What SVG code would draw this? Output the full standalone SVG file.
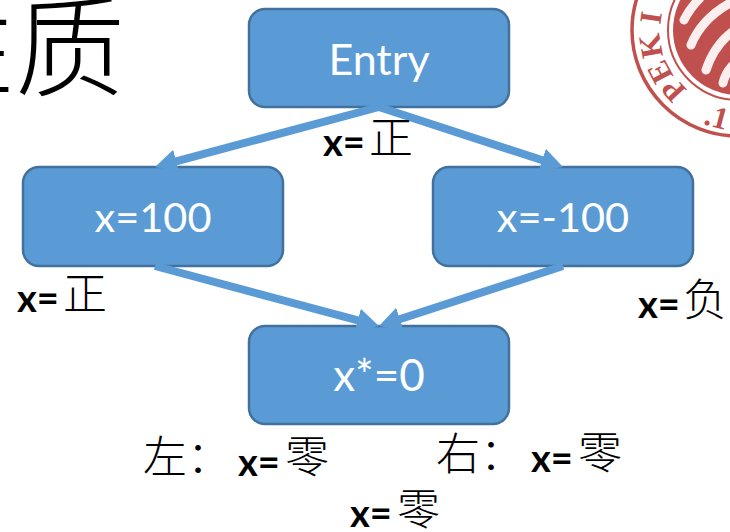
<svg xmlns="http://www.w3.org/2000/svg" width="730" height="532" viewBox="0 0 730 532">
<style>
.n{fill:#5b9bd5;stroke:#41719c;stroke-width:2.5}
.t{font-family:Lato,"Liberation Sans",sans-serif;font-size:41.5px;fill:#fff;text-anchor:middle}
.l{font-family:Lato,"Liberation Sans",sans-serif;font-size:38px;font-weight:700;fill:#000}
.c{font-family:"Noto Sans CJK SC",serif;font-size:44px;font-weight:300;fill:#000}
.e{fill:none;stroke:#5b9bd5;stroke-width:8}
.s{fill:none;stroke:#c0504d}
.w{fill:none;stroke:#fbeeee;stroke-width:9;stroke-linecap:round}
.sl{font-family:"Liberation Serif",serif;font-size:31px;font-weight:700;fill:#c0504d;text-anchor:middle}
</style>
<defs>
<marker id="a" markerUnits="userSpaceOnUse" viewBox="0 -12 22 24" markerWidth="22" markerHeight="24" refX="6" refY="0" orient="auto"><path d="M0,-12L22,0L0,12z" fill="#5b9bd5"/></marker>
</defs>
<rect width="730" height="532" fill="#fff"/>
<text id="title" x="125" y="88" font-family="'Noto Sans CJK SC',serif" font-size="110" font-weight="300" text-anchor="end">性质</text>
<g id="seal">
<circle class="s" cx="738" cy="30" r="106" stroke-width="3.5"/>
<circle cx="738" cy="30" r="65" fill="#c0504d"/>
<circle class="s" cx="738" cy="30" r="70" stroke-width="2"/>
<path class="w" d="M684,20Q690,8 700,-2"/>
<path class="w" d="M691,45Q702,18 732,2"/>
<path class="w" d="M706,70Q714,46 732,32"/>
<path class="w" d="M723,83Q725,74 732,66"/>
<text class="sl" transform="translate(681,83) rotate(-133)">P</text>
<text class="sl" transform="translate(669,67) rotate(-118)">E</text>
<text class="sl" transform="translate(661,44) rotate(-100)">K</text>
<text class="sl" transform="translate(661,19) rotate(-82)">I</text>
<text class="sl" transform="translate(714,127) rotate(15)">.1</text>
</g>
<g id="entry"><rect class="n" x="249" y="9" width="260" height="98" rx="16"/><text class="t" style="font-size:43px" x="379" y="75">Entry</text></g>
<g id="left"><rect class="n" x="23" y="167" width="260" height="99" rx="16"/><text class="t" x="153" y="232">x=100</text></g>
<g id="right"><rect class="n" x="433" y="167" width="260" height="99" rx="16"/><text class="t" x="563" y="232">x=-100</text></g>
<g id="merge"><rect class="n" x="249" y="326" width="260" height="98" rx="16"/><text class="t" style="font-size:44px" x="379" y="391">x*=0</text></g>
<g id="connectors">
<line class="e" x1="379" y1="107" x2="170.5" y2="162.9" marker-end="url(#a)"/>
<line class="e" x1="379" y1="107" x2="547.8" y2="162" marker-end="url(#a)"/>
<line class="e" x1="155" y1="266" x2="363.5" y2="321.9" marker-end="url(#a)"/>
<line class="e" x1="563" y1="266" x2="394.2" y2="321" marker-end="url(#a)"/>
</g>
<g id="labels">
<text class="l" x="323" y="156">x=</text><text class="c" x="369" y="154">正</text>
<text class="l" x="17" y="312">x=</text><text class="c" x="63" y="310">正</text>
<text class="l" x="638" y="318">x=</text><text class="c" x="683" y="316">负</text>
<text class="c" x="143" y="473">左：</text><text class="l" x="238" y="476">x=</text><text class="c" x="285" y="473">零</text>
<text class="c" x="436" y="470">右：</text><text class="l" x="531" y="472">x=</text><text class="c" x="578" y="469">零</text>
<text class="l" x="350" y="527">x=</text><text class="c" x="397" y="525" style="font-size:43px">零</text>
</g>
</svg>
